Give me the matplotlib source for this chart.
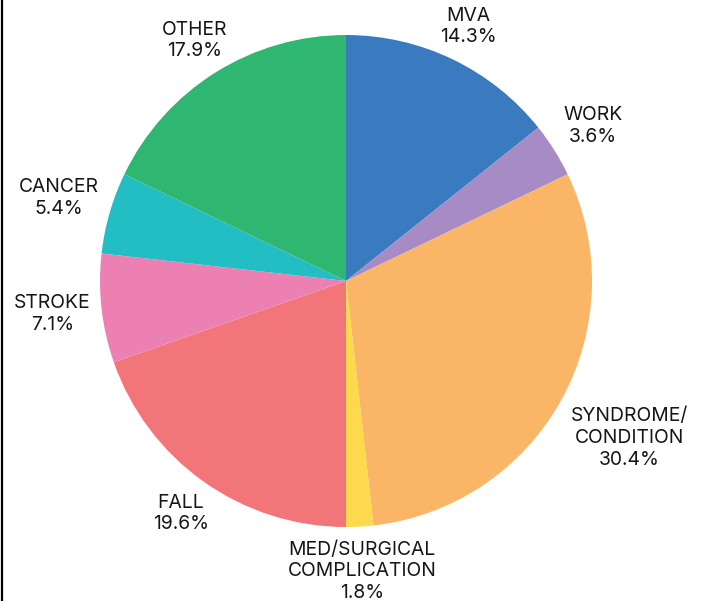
import numpy as np
import matplotlib
matplotlib.use("Agg")
import matplotlib.pyplot as plt

# counts per cause (percent of 56 cases)
labels = ["MVA", "WORK", "SYNDROME/\nCONDITION", "MED/SURGICAL\nCOMPLICATION",
          "FALL", "STROKE", "CANCER", "OTHER"]
counts = [8, 2, 17, 1, 11, 4, 3, 10]
colors = ["#3a7bc0", "#a68bc5", "#fab566", "#fed94e",
          "#f2757a", "#ed80b3", "#22bec3", "#2fb670"]

plt.rcParams['font.family'] = ['Inter', 'DejaVu Sans']

W, H = 705, 601
fig = plt.figure(figsize=(W / 100, H / 100), dpi=100)
ax = fig.add_axes([0, 0, 1, 1])

# pie centre / radius in pixels
cx, cy, R = 346, 281, 246

wedges, _ = ax.pie(counts, colors=colors, startangle=90, counterclock=False,
                   radius=1, center=(0, 0), frame=True,
                   wedgeprops=dict(linewidth=0))
ax.set_xlim(-cx / R, (W - cx) / R)
ax.set_ylim(-(H - cy) / R, cy / R)
ax.set_aspect('auto')
ax.axis('off')

total = sum(counts)
renderer = fig.canvas.get_renderer()
offset = 11 / R
for w, lab, c in zip(wedges, labels, counts):
    ang = np.deg2rad((w.theta1 + w.theta2) / 2)
    dx, dy = np.cos(ang), np.sin(ang)
    t = ax.text(0, 0, f"{lab}\n{c / total * 100:.1f}%", ha='center', va='center',
                fontsize=13.9, color='#161616', linespacing=1.27)
    bb = t.get_window_extent(renderer)
    bw, bh = bb.width / R, (bb.height + 6) / R
    # push the label box out along the ray until it clears the pie
    d = min(bw / 2 / max(abs(dx), 1e-6), bh / 2 / max(abs(dy), 1e-6))
    dist = 1 + offset + d
    t.set_position((dx * dist, dy * dist))

# left frame line
fig.add_artist(plt.Line2D([2 / W, 2 / W], [0, 1], color='black', linewidth=1.6,
                          transform=fig.transFigure))

fig.savefig("out.png", dpi=100)
